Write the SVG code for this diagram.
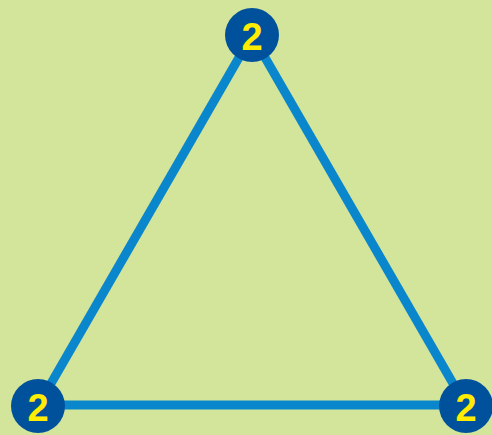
<svg xmlns="http://www.w3.org/2000/svg" width="492" height="435" viewBox="0 0 492 435">
<style>
.edge{stroke:#0a87cc;stroke-width:9;fill:none;stroke-linecap:butt}
.node circle{fill:#00519c}
.node text{font-family:"Liberation Sans",Arial,sans-serif;font-weight:bold;font-size:38px;fill:#ffec00;text-anchor:middle;dominant-baseline:central}
</style>
<rect width="492" height="435" fill="#d3e59b"/>
<g id="connectors">
<line class="edge" x1="252" y1="35" x2="38" y2="406"/>
<line class="edge" x1="252" y1="35" x2="466" y2="406"/>
<line class="edge" x1="38" y1="405" x2="466" y2="405"/>
</g>
<g id="node-top" class="node"><circle cx="252" cy="35" r="27"/><text x="252" y="37">2</text></g>
<g id="node-left" class="node"><circle cx="38" cy="406" r="27"/><text x="38" y="408">2</text></g>
<g id="node-right" class="node"><circle cx="466" cy="406" r="27"/><text x="466" y="408">2</text></g>
</svg>
